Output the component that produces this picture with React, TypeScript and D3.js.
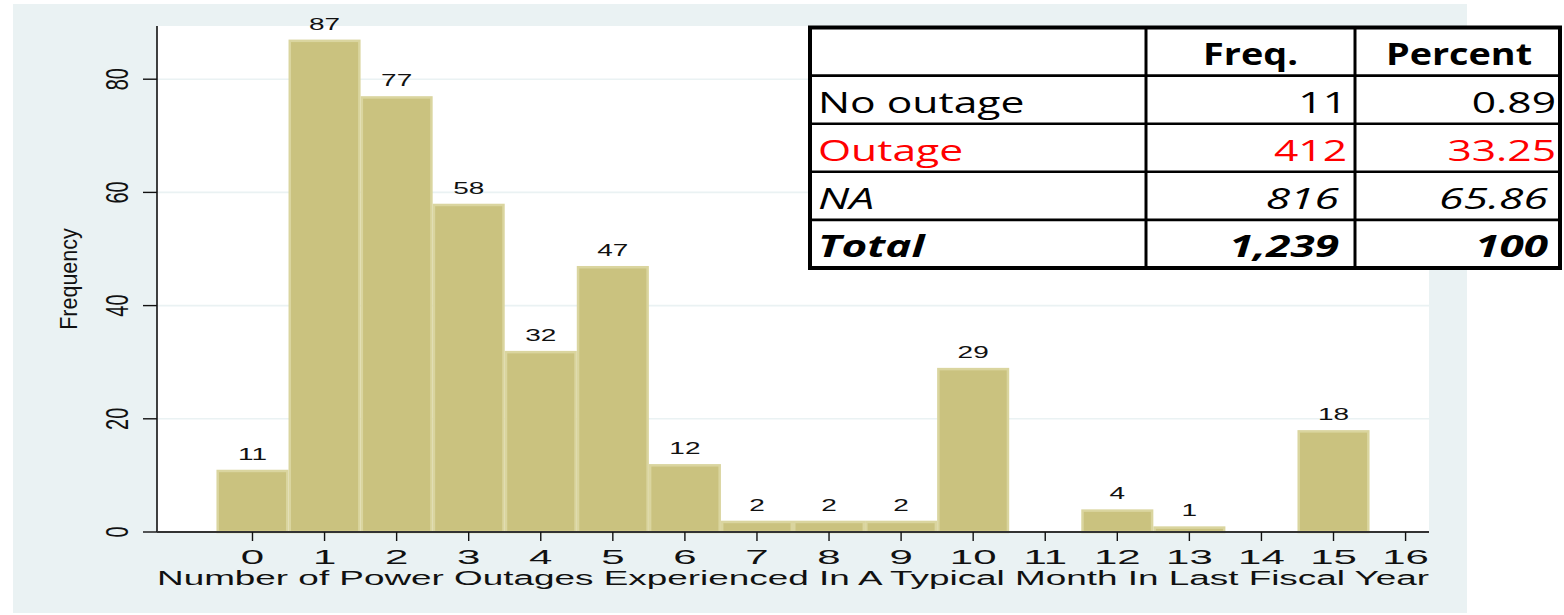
import { useRef, useMemo, useEffect } from 'react';
import * as d3 from 'd3';

// histogram values
const outageCounts = [0, 1, 2, 3, 4, 5, 6, 7, 8, 9, 10, 12, 13, 15];
const frequencies = [11, 87, 77, 58, 32, 47, 12, 2, 2, 2, 29, 4, 1, 18];
const xTicks = [0, 1, 2, 3, 4, 5, 6, 7, 8, 9, 10, 11, 12, 13, 14, 15, 16];
const yTicks = [0, 20, 40, 60, 80];
const xTitle = 'Number of Power Outages Experienced In A Typical Month In Last Fiscal Year';
const yTitle = 'Frequency';

// overlay table
const tableHeaders = ['Freq.', 'Percent'];
const tableRows = ['No outage', 'Outage', 'NA', 'Total'];
const tableFreq = ['11', '412', '816', '1,239'];
const tablePercent = ['0.89', '33.25', '65.86', '100'];

const W = 1564;
const H = 615;
const plot = { left: 157, right: 1429, top: 26, bottom: 532 };
const chartFont = '"Liberation Sans", Arial, sans-serif';
const tableFont = '"Open Sans", "Noto Sans", sans-serif';

const rowStyles = [
  { fill: '#000', fontStyle: 'normal', fontWeight: 400, sx: 1.42, shift: 0 },
  { fill: '#ff0000', fontStyle: 'normal', fontWeight: 400, sx: 1.42, shift: 0 },
  { fill: '#000', fontStyle: 'italic', fontWeight: 400, sx: 1.48, shift: 8 },
  { fill: '#000', fontStyle: 'italic', fontWeight: 700, sx: 1.47, shift: 8 },
];

const App = () => {
  const axesRef = useRef(null);

  const data = outageCounts.map((v, i) => ({ value: v, freq: frequencies[i] }));

  const xScale = useMemo(() => {
    return d3.scaleLinear()
      .domain([-1.325, 16.325])
      .range([plot.left, plot.right]);
  }, []);

  const yScale = useMemo(() => {
    return d3.scaleLinear()
      .domain([0, 89.4])
      .range([plot.bottom, plot.top]);
  }, []);

  const rowScale = useMemo(() => {
    return d3.scaleBand()
      .domain(['header', ...tableRows])
      .range([27.5, 268]);
  }, []);

  useEffect(() => {
    const g = d3.select(axesRef.current);
    g.selectAll('*').remove();

    // Y AXIS
    g.append('line')
      .attr('x1', plot.left).attr('x2', plot.left)
      .attr('y1', plot.top).attr('y2', plot.bottom)
      .attr('stroke', '#111').attr('stroke-width', 1.6);
    const yt = g.selectAll('.ytick').data(yTicks).join('g').attr('class', 'ytick');
    yt.append('line')
      .attr('x1', plot.left - 14).attr('x2', plot.left)
      .attr('y1', d => yScale(d)).attr('y2', d => yScale(d))
      .attr('stroke', '#111').attr('stroke-width', 1.4);
    yt.append('text')
      .attr('transform', d => `translate(128, ${yScale(d)}) scale(1.6, 1) rotate(-90)`)
      .attr('text-anchor', 'middle')
      .attr('font-family', chartFont)
      .attr('font-size', 20)
      .attr('fill', '#111')
      .text(d => d);

    // X AXIS
    g.append('line')
      .attr('x1', plot.left).attr('x2', plot.right)
      .attr('y1', plot.bottom).attr('y2', plot.bottom)
      .attr('stroke', '#333').attr('stroke-width', 1.8);
    const xt = g.selectAll('.xtick').data(xTicks).join('g').attr('class', 'xtick');
    xt.append('line')
      .attr('x1', d => xScale(d)).attr('x2', d => xScale(d))
      .attr('y1', plot.bottom).attr('y2', plot.bottom + 9)
      .attr('stroke', '#111').attr('stroke-width', 1.4);
    xt.append('text')
      .attr('transform', d => `translate(${xScale(d)}, 564) scale(2, 1)`)
      .attr('text-anchor', 'middle')
      .attr('font-family', chartFont)
      .attr('font-size', 21)
      .attr('fill', '#111')
      .text(d => d);
  }, [xScale, yScale]);

  return (
    <div style={{ position: 'absolute', left: 0, top: 0 }}>
      <svg width={W} height={H} style={{ display: 'block', background: '#fff' }}>
        <rect x={13} y={4} width={1454} height={609} fill="#eaf2f3" />
        <rect
          x={plot.left} y={plot.top}
          width={plot.right - plot.left} height={plot.bottom - plot.top}
          fill="#fff"
        />
        {/* gridlines */}
        {yTicks.filter(d => d > 0).map(d => (
          <line
            key={d}
            x1={plot.left} x2={plot.right}
            y1={yScale(d)} y2={yScale(d)}
            stroke="#eaf2f3" strokeWidth={1.6}
          />
        ))}
        {/* bars */}
        {data.map(d => {
          const x0 = xScale(d.value - 0.5);
          const x1 = xScale(d.value + 0.5);
          const y = yScale(d.freq);
          return (
            <g key={d.value}>
              <rect
                x={x0 + 1.25}
                y={y + 1.25}
                width={x1 - x0 - 2.5}
                height={yScale(0) - y - 1.25}
                fill="#cac27f"
                stroke="#dad59f"
                strokeWidth={2.5}
              />
              <text
                transform={`translate(${xScale(d.value)}, ${y - 10}) scale(1.75, 1)`}
                textAnchor="middle"
                fontFamily={chartFont}
                fontSize={16}
                fill="#111"
              >
                {d.freq}
              </text>
            </g>
          );
        })}
        <g ref={axesRef} />
        {/* axis titles */}
        <text
          x={plot.left}
          y={585}
          textLength={plot.right - plot.left}
          lengthAdjust="spacingAndGlyphs"
          fontFamily={chartFont}
          fontSize={20}
          fill="#111"
        >
          {xTitle}
        </text>
        <text
          transform={`translate(77, ${(plot.top + plot.bottom) / 2}) scale(1.1, 1) rotate(-90)`}
          textAnchor="middle"
          fontFamily={chartFont}
          fontSize={21.5}
          fill="#111"
        >
          {yTitle}
        </text>
        {/* table */}
        <g className="table">
          <rect x={810} y={27.5} width={750} height={240.5} fill="#fff" />
          {tableRows.map(r => (
            <line
              key={'h' + r}
              x1={810} x2={1560}
              y1={rowScale(r)} y2={rowScale(r)}
              stroke="#000" strokeWidth={2.6}
            />
          ))}
          {[1146, 1355].map(x => (
            <line key={'v' + x} x1={x} x2={x} y1={27.5} y2={268} stroke="#000" strokeWidth={3} />
          ))}
          <rect x={810} y={27.5} width={750} height={240.5} fill="none" stroke="#000" strokeWidth={4} />
          {tableHeaders.map((h, i) => (
            <text
              key={h}
              transform={`translate(${i === 0 ? 1250.5 : 1459}, ${(rowScale('header') ?? 0) + 37}) scale(1.26, 1)`}
              textAnchor="middle"
              fontFamily={tableFont}
              fontSize={30}
              fontWeight={700}
              fill="#000"
            >
              {h}
            </text>
          ))}
          {tableRows.map((r, i) => {
            const s = rowStyles[i];
            const base = (rowScale(r) ?? 0) + 37;
            const common = {
              fontFamily: tableFont,
              fontSize: 30,
              fontStyle: s.fontStyle,
              fontWeight: s.fontWeight,
              fill: s.fill,
            };
            return (
              <g key={r}>
                <text transform={`translate(818, ${base}) scale(${s.sx}, 1)`} {...common}>{r}</text>
                <text transform={`translate(${1347 - s.shift}, ${base}) scale(${s.sx}, 1)`} textAnchor="end" {...common}>{tableFreq[i]}</text>
                <text transform={`translate(${1556 - s.shift}, ${base}) scale(${s.sx}, 1)`} textAnchor="end" {...common}>{tablePercent[i]}</text>
              </g>
            );
          })}
        </g>
      </svg>
    </div>
  );
};

export default App;
